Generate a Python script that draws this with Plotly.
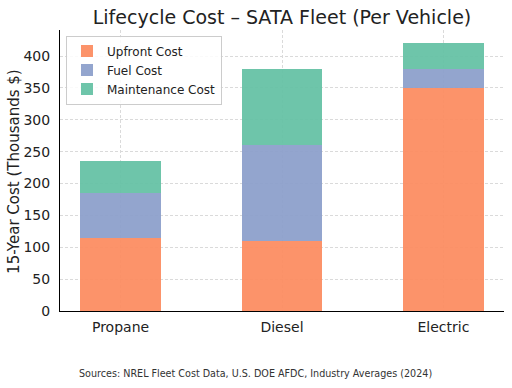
import plotly.graph_objects as go

categories = ["Propane", "Diesel", "Electric"]
upfront = [115, 110, 350]
fuel = [70, 150, 30]
maintenance = [50, 120, 40]
y_ticks = [0, 50, 100, 150, 200, 250, 300, 350, 400]

x_idx = list(range(len(categories)))
fig = go.Figure()
series = [("Upfront Cost", upfront, "rgba(252,141,98,0.95)"),
          ("Fuel Cost", fuel, "rgba(141,160,203,0.95)"),
          ("Maintenance Cost", maintenance, "rgba(102,194,165,0.95)")]
for name, vals, col in series:
    fig.add_trace(go.Bar(x=x_idx, y=vals, name=name, width=0.5,
                         marker=dict(color=col, line=dict(width=0))))

font = "DejaVu Sans"
fig.update_layout(
    barmode="stack",
    width=512, height=388,
    margin=dict(l=60, r=8, t=30, b=77, autoexpand=False),
    paper_bgcolor="white", plot_bgcolor="white",
    font=dict(family=font, size=14, color="#222"),
    title=dict(text="Lifecycle Cost – SATA Fleet (Per Vehicle)", x=0.5, xref="paper", xanchor="center",
               y=0.956, yanchor="middle", font=dict(size=19, family=font, color="#222")),
    legend=dict(x=0.0135, y=0.98, xanchor="left", yanchor="top", bgcolor="rgba(255,255,255,0.85)",
                bordercolor="#cccccc", borderwidth=1, font=dict(size=12, family=font),
                traceorder="normal", itemwidth=30, tracegroupgap=0),
    showlegend=True,
    bargap=0,
)
fig.update_xaxes(range=[-0.375, 2.375], tickmode="array", tickvals=x_idx, ticktext=categories,
                 showgrid=True, gridcolor="#dadada", griddash="3px,2px", gridwidth=0.8,
                 showline=True, linecolor="black", linewidth=1, ticks="",
                 ticklabelstandoff=3, automargin=False,
                 tickfont=dict(size=14), zeroline=False)
fig.update_yaxes(range=[0, 441], tickmode="array", tickvals=y_ticks,
                 showgrid=True, gridcolor="#dadada", griddash="3px,2px", gridwidth=0.8,
                 showline=True, linecolor="black", linewidth=1, ticks="",
                 ticklabelstandoff=6, automargin=False,
                 tickfont=dict(size=14), zeroline=False)
fig.add_annotation(text="15-Year Cost (Thousands $)", textangle=-90,
                   xref="paper", yref="paper", x=0, y=0.495, xanchor="center", yanchor="middle",
                   xshift=-46, showarrow=False, font=dict(size=15, family=font, color="#222"))
fig.add_annotation(text="Sources: NREL Fleet Cost Data, U.S. DOE AFDC, Industry Averages (2024)",
                   xref="paper", yref="paper", x=0.44, y=-0.224, xanchor="center", yanchor="middle",
                   showarrow=False, font=dict(size=9.6, family=font, color="#333"))
fig.write_html("out.html", config={"displayModeBar": False},
               post_script="document.body.style.margin='0';")
